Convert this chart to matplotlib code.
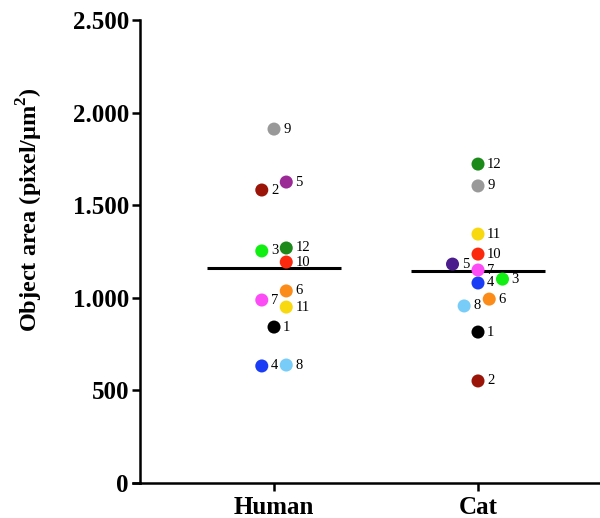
import matplotlib
matplotlib.use('Agg')
import matplotlib.pyplot as plt
from matplotlib.ticker import FuncFormatter

# Data
groups = ['Human', 'Cat']
sample_ids = list(range(1, 13))
human_vals = [842, 1582, 1253, 632, 1625, 1037, 988, 637, 1911, 1193, 950, 1269]
cat_vals = [815, 551, 1101, 1080, 1182, 993, 1150, 956, 1604, 1236, 1344, 1722]

# horizontal jitter of each sample (category units)
human_jit = [0, -0.06, -0.06, -0.06, 0.06, 0.06, -0.06, 0.06, 0, 0.06, 0.06, 0.06]
cat_jit = [0, 0, 0.12, 0, -0.125, 0.055, 0, -0.068, 0, 0, 0, 0]

colors = ['#000000', '#9a1408', '#11ee11', '#1a3cf5', '#9b2a96', '#fb8c1a',
          '#fb4cf5', '#78ccf8', '#999999', '#fb2a0e', '#f8d80e', '#1b8a1b']
cat_colors = list(colors)
cat_colors[4] = '#4b1c8c'

serif = ['Liberation Serif', 'DejaVu Serif']
plt.rcParams['mathtext.fontset'] = 'custom'
plt.rcParams['mathtext.rm'] = 'Liberation Serif'
plt.rcParams['mathtext.bf'] = 'Liberation Serif:bold'

fig = plt.figure(figsize=(6.0, 5.18), dpi=100)
ax = fig.add_axes([140 / 600, 35 / 518, 460 / 600, 463 / 518])

series = [(human_vals, human_jit, colors), (cat_vals, cat_jit, cat_colors)]
for gi, (vals, jit, cols) in enumerate(series):
    xs = [gi + j for j in jit]
    ax.scatter(xs, vals, s=88, c=cols, zorder=3, linewidths=0)
    for x, v, sid in zip(xs, vals, sample_ids):
        ax.text(x + 0.045, v, str(sid), fontsize=10.5, family=serif,
                va='center', ha='left', zorder=4)
    mean = sum(vals) / len(vals)
    ax.plot([gi - 0.33, gi + 0.33], [mean, mean], color='black', lw=2.2, zorder=2,
            solid_capstyle='butt')

ax.set_xlim(-0.657, 1.598)
ax.set_ylim(0, 2500)
ax.set_xticks([0, 1])
ax.set_xticklabels(groups)
ax.set_yticks([0, 500, 1000, 1500, 2000, 2500])
ax.yaxis.set_major_formatter(FuncFormatter(lambda v, p: f'{int(v):,}'.replace(',', '.')))

for lab in ax.get_xticklabels() + ax.get_yticklabels():
    lab.set_family(serif)
    lab.set_fontweight('bold')
    lab.set_fontsize(18)

ax.tick_params(axis='both', width=1.8, length=6, color='black')
ax.tick_params(axis='x', pad=3)
ax.tick_params(axis='y', pad=2)

for s in ['top', 'right']:
    ax.spines[s].set_visible(False)
ax.spines['left'].set_linewidth(1.8)
ax.spines['bottom'].set_linewidth(1.8)
# x axis line extends slightly left of the y axis
ax.plot([-0.015, 0], [0, 0], transform=ax.transAxes, color='black', lw=1.8, clip_on=False)

ax.set_ylabel('Object area (pixel/μm$^\\mathbf{2}$)', family=serif, fontweight='bold',
              fontsize=17.5)
ax.yaxis.set_label_coords(-0.206, 0.59)

fig.savefig('out.png', dpi=100)
